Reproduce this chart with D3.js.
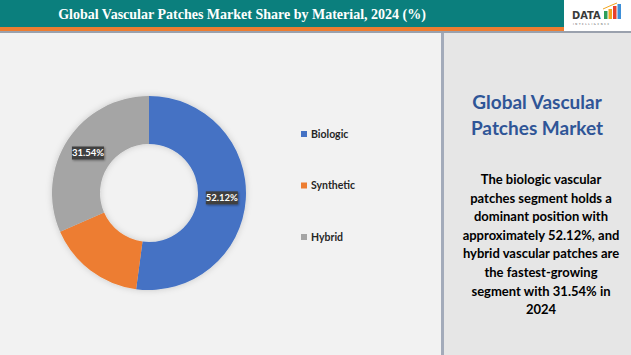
<!DOCTYPE html>
<html><head><meta charset="utf-8">
<script src="https://cdn.jsdelivr.net/npm/d3@7"></script>
<style>html,body{margin:0;padding:0;background:#f2f2f2;}svg{display:block;}</style>
</head><body>
<script>
const categories = ["Biologic", "Synthetic", "Hybrid"];
const values = [52.12, 16.34, 31.54];
const colors = ["#4472c4", "#ed7d31", "#a5a5a5"];
const showLabel = [true, false, true];
const title = "Global Vascular Patches Market Share by Material, 2024 (%)";
const sideTitle = ["Global Vascular", "Patches Market"];
const sideText = ["The biologic vascular", "patches segment holds a", "dominant position with",
  "approximately 52.12%, and", "hybrid vascular patches are", "the fastest-growing",
  "segment with 31.54% in", "2024"];

const W = 631, H = 355;
const svg = d3.select("body").append("svg").attr("width", W).attr("height", H);
const defs = svg.append("defs");
const sh = defs.append("filter").attr("id","sh").attr("x","-20%").attr("y","-20%").attr("width","140%").attr("height","140%");
sh.append("feDropShadow").attr("dx",0).attr("dy",0).attr("stdDeviation",3).attr("flood-color","#000").attr("flood-opacity",0.18);
const lsh = defs.append("filter").attr("id","lsh").attr("x","-20%").attr("y","-30%").attr("width","150%").attr("height","170%");
lsh.append("feDropShadow").attr("dx",1).attr("dy",1).attr("stdDeviation",0.8).attr("flood-color","#000").attr("flood-opacity",0.4);

// backgrounds
svg.append("rect").attr("x",0).attr("y",0).attr("width",W).attr("height",H).attr("fill","#f2f2f2");
svg.append("rect").attr("x",443).attr("y",32).attr("width",W-443).attr("height",H-32).attr("fill","#e6e6e6");
svg.append("rect").attr("x",441).attr("y",32).attr("width",3).attr("height",H-32).attr("fill","#a3abba");
// header
svg.append("rect").attr("x",0).attr("y",0).attr("width",W).attr("height",32).attr("fill","#ffffff");
svg.append("rect").attr("x",0).attr("y",0).attr("width",564).attr("height",27).attr("fill","#0b7f7d");
svg.append("rect").attr("x",0).attr("y",27).attr("width",564).attr("height",4).attr("fill","#ed7d31");
svg.append("rect").attr("x",0).attr("y",31).attr("width",W).attr("height",2).attr("fill","#9aa1ad");
svg.append("text").attr("x",242).attr("y",19).attr("text-anchor","middle")
  .attr("font-family","'Liberation Serif', serif").attr("font-weight","bold").attr("font-size",14)
  .attr("fill","#ffffff").text(title);

// logo
const logo = svg.append("g");
logo.append("text").attr("x",572).attr("y",19).attr("font-family","'DejaVu Sans Condensed','DejaVu Sans',sans-serif")
  .attr("font-weight","bold").attr("font-size",11).attr("fill","#3a3a3a").text("DATA");
const barsL = [[604,11,"#2e9e5b"],[608.5,9,"#f2a61f"],[613,6,"#e8412c"],[617.5,4,"#3d8fd8"]];
barsL.forEach(b => logo.append("rect").attr("x",b[0]).attr("y",b[1]).attr("width",3.5).attr("height",19-b[1]).attr("fill",b[2]));
logo.append("path").attr("d","M603,9 L612,5 L617,3").attr("fill","none").attr("stroke","#f2a61f").attr("stroke-width",1);
logo.append("text").attr("x",573).attr("y",24.5).attr("font-family","'DejaVu Sans',sans-serif")
  .attr("font-size",2.6).attr("letter-spacing",1.6).attr("fill","#555").text("INTELLIGENCE");

// donut
const cx = 149, cy = 193, R = 97, r = 49;
const pie = d3.pie().sort(null).value(d => d)(values);
const arc = d3.arc().innerRadius(r).outerRadius(R);
const labelArc = d3.arc().innerRadius((R+r)/2).outerRadius((R+r)/2);
const g = svg.append("g").attr("transform",`translate(${cx},${cy})`);
g.append("g").attr("filter","url(#sh)").selectAll("path").data(pie).join("path")
  .attr("d",arc).attr("fill",(d,i)=>colors[i]);
const lab = g.selectAll("g.lab").data(pie.filter((d,i)=>showLabel[i])).join("g").attr("class","lab")
  .attr("transform",d=>`translate(${labelArc.centroid(d)})`);
lab.append("rect").attr("x",-16).attr("y",-6.5).attr("width",32).attr("height",13).attr("fill","#404040").attr("filter","url(#lsh)");
lab.append("text").attr("text-anchor","middle").attr("dy","0.35em")
  .attr("font-family","Lato, 'Open Sans', sans-serif").attr("font-weight","bold").attr("font-size",9.5)
  .attr("fill","#ffffff").text(d => d.value.toFixed(2) + "%");

// legend
const lg = svg.append("g").selectAll("g").data(categories).join("g")
  .attr("transform",(d,i)=>`translate(301,${134 + i*51.5})`);
lg.append("rect").attr("x",0).attr("y",-3).attr("width",6).attr("height",6).attr("fill",(d,i)=>colors[i]);
lg.append("text").attr("x",10).attr("dy","0.35em").attr("font-family","Lato, sans-serif").attr("font-weight","bold")
  .attr("font-size",10.5).attr("fill","#262626").text(d=>d);

// side panel
const side = svg.append("g");
side.selectAll("text.t").data(sideTitle).join("text").attr("class","t")
  .attr("x",537).attr("y",(d,i)=>109 + i*26).attr("text-anchor","middle")
  .attr("font-family","Lato, sans-serif").attr("font-weight","bold").attr("font-size",19).attr("fill","#2f5597").text(d=>d);
side.selectAll("text.b").data(sideText).join("text").attr("class","b")
  .attr("x",541).attr("y",(d,i)=>184 + i*18.6).attr("text-anchor","middle")
  .attr("font-family","Lato, sans-serif").attr("font-weight","bold").attr("font-size",13).attr("fill","#000").text(d=>d);
</script>
</body></html>
